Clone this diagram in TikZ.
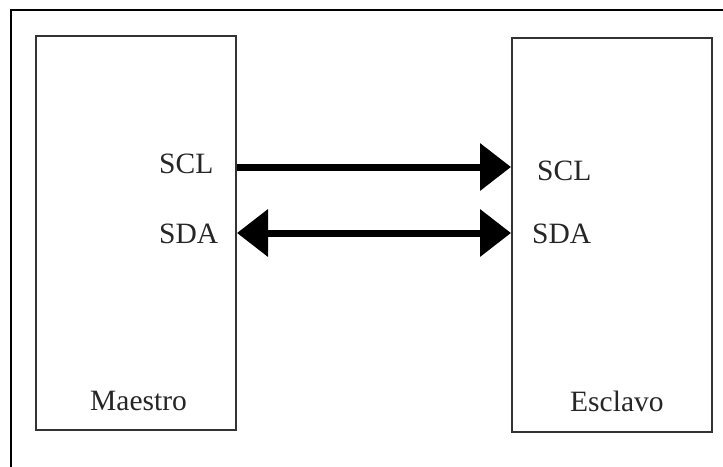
\documentclass[tikz,border=0pt]{standalone}
\usepackage{fontspec}
\setmainfont{Liberation Serif}
\usetikzlibrary{arrows.meta}
\begin{document}
\begin{tikzpicture}[x=1pt,y=-1pt,
  box/.style={draw=black!80,line width=2pt,minimum width=200pt,minimum height=394pt,inner sep=0pt},
  lbl/.style={anchor=base west,inner sep=0pt,text=black!85,font=\fontsize{29.5}{34}\selectfont},
  arr/.style={line width=7pt,-{Triangle[length=31pt,width=46pt]}},
  darr/.style={line width=7pt,{Triangle[length=31pt,width=46pt]}-{Triangle[length=31pt,width=46pt]}}]
\useasboundingbox (0,0) rectangle (723,466);
\fill[white] (0,0) rectangle (723,466);
% outer frame (top and left visible)
\draw[line width=1.6pt,black] (11,470) -- (11,10) -- (730,10);
% boxes
\node[box] (m) at (136,233) {};
\node[box] (s) at (612,235) {};
% labels
\node[lbl] (msc) at (159,173) {SCL};
\node[lbl] (msd) at (159,243) {SDA};
\node[lbl] (ssc) at (537,180) {SCL};
\node[lbl] (ssd) at (532,243) {SDA};
\node[lbl] (mn) at (90,410) {Maestro};
\node[lbl] (sn) at (570,411) {Esclavo};
% connector levels
\coordinate (c1) at (0,167);
\coordinate (c2) at (0,233);
\draw[arr] (m.east |- c1) -- (s.west |- c1);
\draw[darr] (m.east |- c2) -- (s.west |- c2);
\end{tikzpicture}
\end{document}
